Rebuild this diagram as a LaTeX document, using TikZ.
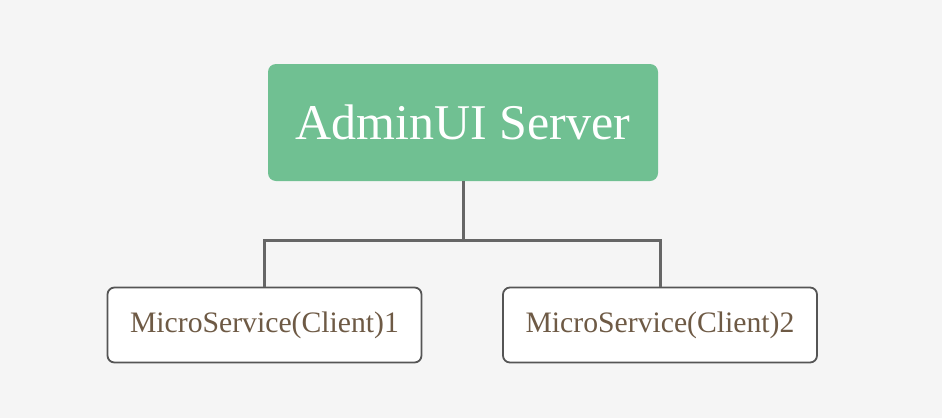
\documentclass[tikz,border=0pt]{standalone}
\usepackage{fontspec}
\setmainfont{Liberation Serif}
\definecolor{bgc}{HTML}{F5F5F5}
\definecolor{greenc}{HTML}{70C092}
\definecolor{linec}{HTML}{666666}
\definecolor{borderc}{HTML}{555555}
\definecolor{textc}{HTML}{6E5A45}
\begin{document}
\begin{tikzpicture}[x=1pt,y=-1pt,
  serverbox/.style={fill=greenc, draw=none, rounded corners=8pt, minimum width=390pt, minimum height=117pt, inner sep=0pt, text=white, font=\fontsize{50}{60}\selectfont},
  clientbox/.style={fill=white, draw=borderc, line width=1.8pt, rounded corners=7pt, minimum width=314pt, minimum height=75pt, inner sep=0pt, text=textc, font=\fontsize{29.7}{36}\selectfont},
  conn/.style={draw=linec, line width=3pt}]
\fill[bgc] (0,0) rectangle (942,418);
\useasboundingbox (0,0) rectangle (942,418);
\node[serverbox] (admin) at (463,122.5) {AdminUI Server};
\node[clientbox] (c1) at (264.5,325) {MicroService(Client)1};
\node[clientbox] (c2) at (660,325) {MicroService(Client)2};
\coordinate (j) at (463,240);
\draw[conn] (admin.south) -- (j);
\draw[conn] (c1.north) |- (j) -| (c2.north);
\end{tikzpicture}
\end{document}
